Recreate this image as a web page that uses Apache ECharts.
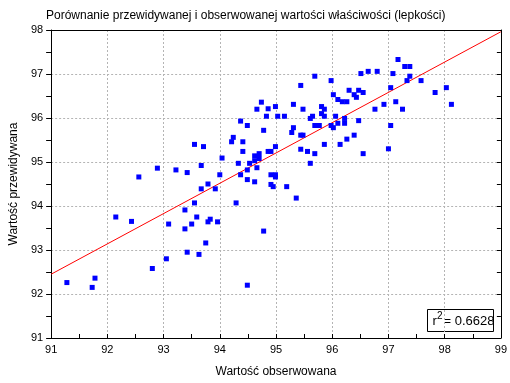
<!DOCTYPE html>
<html lang="pl">
<head>
    <meta charset="UTF-8">
    <title>Lepkość</title>
    <script src="https://cdn.jsdelivr.net/npm/echarts@6/dist/echarts.min.js"></script>
    <style>
        html, body { margin: 0; padding: 0; background: #fff; }
        #main { width: 510px; height: 383px; }
    </style>
</head>
<body>
<div id="main"></div>

<script type="text/javascript">
    // wartosci obserwowane (x) i przewidywane (y)
    var observed = [
        91.28, 91.73, 91.78, 92.15, 92.43, 92.56, 92.80, 92.89, 93.05, 93.09,
        93.22, 93.38, 93.38, 93.42, 93.42, 93.50, 93.55, 93.55, 93.59, 93.63,
        93.67, 93.67, 93.71, 93.75, 93.79, 93.79, 93.83, 93.92, 93.96, 94.00,
        94.04, 94.21, 94.24, 94.29, 94.33, 94.37, 94.37, 94.41, 94.41, 94.49,
        94.49, 94.49, 94.49, 94.53, 94.62, 94.62, 94.62, 94.66, 94.66, 94.70,
        94.70, 94.74, 94.78, 94.78, 94.83, 94.86, 94.86, 94.91, 94.91, 94.91,
        94.95, 94.99, 94.99, 94.99, 94.99, 95.03, 95.15, 95.19, 95.28, 95.31,
        95.31, 95.36, 95.44, 95.44, 95.44, 95.48, 95.48, 95.56, 95.61, 95.61,
        95.65, 95.69, 95.69, 95.69, 95.77, 95.81, 95.81, 95.86, 95.86, 95.86,
        95.98, 95.98, 96.02, 96.02, 96.06, 96.10, 96.10, 96.14, 96.18, 96.22,
        96.22, 96.26, 96.26, 96.30, 96.39, 96.39, 96.43, 96.47, 96.47, 96.51,
        96.55, 96.55, 96.64, 96.76, 96.80, 96.92, 97.00, 97.04, 97.04, 97.08,
        97.13, 97.17, 97.25, 97.29, 97.33, 97.38, 97.38, 97.58, 97.83, 98.03,
        98.12
    ];
    var predicted = [
        92.26, 92.15, 92.36, 93.75, 93.65, 94.66, 92.58, 94.86, 92.80, 93.59,
        94.82, 93.91, 93.48, 94.76, 92.95, 93.59, 95.40, 94.07, 93.75, 92.90,
        94.92, 94.39, 95.35, 93.16, 94.50, 93.64, 93.70, 94.39, 93.64, 94.71,
        95.09, 95.46, 95.56, 94.07, 94.97, 94.71, 95.93, 95.46, 95.24, 95.83,
        94.82, 94.60, 92.20, 94.97, 95.14, 95.03, 94.55, 96.20, 94.87, 95.19,
        95.08, 96.36, 95.72, 93.43, 96.04, 96.21, 95.24, 95.24, 94.71, 94.49,
        94.44, 96.26, 95.35, 94.71, 94.66, 96.04, 96.04, 94.44, 95.67, 96.31,
        95.78, 94.18, 96.74, 95.61, 95.29, 96.20, 95.61, 95.24, 94.97, 95.99,
        96.04, 96.95, 95.83, 95.19, 95.83, 96.26, 96.10, 96.20, 96.04, 95.40,
        96.85, 95.83, 96.53, 95.78, 96.04, 96.42, 95.88, 95.40, 96.37, 95.99,
        95.88, 96.37, 95.52, 96.63, 96.53, 95.61, 96.47, 96.63, 95.94, 97.01,
        96.58, 95.19, 97.06, 96.20, 97.06, 96.31, 95.30, 96.69, 95.83, 97.01,
        96.37, 97.33, 96.20, 97.17, 96.85, 97.17, 96.95, 96.85, 96.58, 96.69,
        96.31
    ];
    // linia regresji (konce)
    var fitX = [91, 99];
    var fitY = [92.45, 97.96];
    var ticks = [91, 92, 93, 94, 95, 96, 97, 98, 99];
    var r2 = '0.6628';

    var points = [];
    for (var i = 0; i < observed.length; i++) {
        points.push([observed[i], predicted[i]]);
    }
    var fitLine = [[fitX[0], fitY[0]], [fitX[1], fitY[1]]];

    var font = 'Liberation Sans, Arial, sans-serif';
    var gridLine = { show: true, lineStyle: { color: '#b4b4b4', type: [2, 2], width: 1 } };
    var axisLine = { show: true, onZero: false, lineStyle: { color: '#000', width: 1 } };

    var myChart = echarts.init(document.getElementById('main'));
    var option = {
        animation: false,
        title: {
            text: 'Porównanie przewidywanej i obserwowanej wartości właściwości (lepkości)',
            left: 41,
            top: 5,
            textStyle: { fontFamily: font, fontSize: 12, fontWeight: 'normal', color: '#000' }
        },
        grid: { left: 47, right: 5, top: 30, bottom: 43 },
        xAxis: [{
            type: 'value',
            min: ticks[0], max: ticks[ticks.length - 1], interval: 1,
            name: 'Wartość obserwowana',
            nameLocation: 'middle',
            nameGap: 28,
            nameTextStyle: { fontFamily: font, fontSize: 12, color: '#000' },
            axisLine: axisLine,
            axisTick: { show: true, inside: true, length: 4, lineStyle: { color: '#000' } },
            minorTick: { show: true, splitNumber: 2, length: 4, lineStyle: { color: '#000' } },
            axisLabel: { fontFamily: font, fontSize: 11, color: '#000', margin: 6 },
            splitLine: gridLine
        }, {
            type: 'value', position: 'top',
            min: ticks[0], max: ticks[ticks.length - 1], interval: 1,
            axisLine: axisLine,
            axisTick: { show: false },
            axisLabel: { show: false },
            splitLine: { show: false }
        }],
        yAxis: [{
            type: 'value',
            min: 91, max: 98, interval: 1,
            name: 'Wartość przewidywana',
            nameLocation: 'middle',
            nameGap: 30,
            nameTextStyle: { fontFamily: font, fontSize: 12, color: '#000' },
            axisLine: axisLine,
            axisTick: { show: true, length: 5, lineStyle: { color: '#000' } },
            minorTick: { show: true, splitNumber: 2, length: 5, lineStyle: { color: '#000' } },
            axisLabel: { fontFamily: font, fontSize: 11, color: '#000', margin: 8 },
            splitLine: gridLine
        }, {
            type: 'value', position: 'right',
            min: 91, max: 98, interval: 1,
            axisLine: axisLine,
            axisTick: { show: true, inside: true, length: 4, lineStyle: { color: '#000' } },
            minorTick: { show: true, splitNumber: 2, length: 4, lineStyle: { color: '#000' } },
            axisLabel: { show: false },
            splitLine: { show: false }
        }],
        series: [{
            type: 'scatter',
            data: points,
            symbol: 'rect',
            symbolSize: 5,
            itemStyle: { color: '#0000ff', opacity: 1 },
            z: 3
        }, {
            type: 'line',
            data: fitLine,
            showSymbol: false,
            lineStyle: { color: '#ff0000', width: 1 },
            z: 2
        }],
        graphic: [{
            type: 'group',
            left: 427,
            top: 309,
            children: [{
                type: 'rect',
                shape: { x: 0, y: 0, width: 66, height: 22 },
                style: { fill: '#fff', stroke: '#000', lineWidth: 1 }
            }, {
                type: 'text',
                x: 5, y: 5,
                style: { text: 'r', font: '13px ' + font, fill: '#000' }
            }, {
                type: 'text',
                x: 9.5, y: 2,
                style: { text: '2', font: '10px ' + font, fill: '#000' }
            }, {
                type: 'text',
                x: 16, y: 5,
                style: { text: '= ' + r2, font: '13px ' + font, fill: '#000' }
            }]
        }]
    };
    myChart.setOption(option);
</script>
</body>
</html>
